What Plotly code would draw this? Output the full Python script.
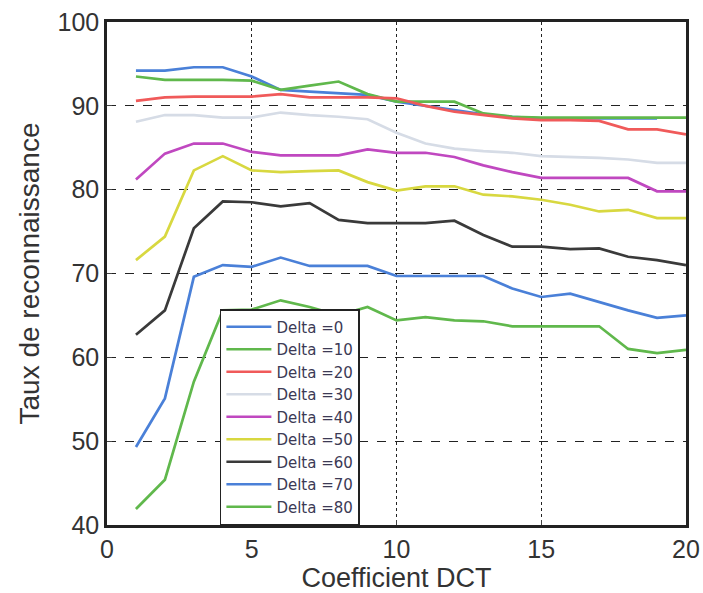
import plotly.graph_objects as go

# Coefficient DCT (x) and recognition rates per Delta
coef = list(range(1, 21))

delta_0 = [94.2, 94.2, 94.6, 94.6, 93.5, 91.9, 91.7, 91.5, 91.3, 90.5,
           90.0, 89.5, 89.0, 88.7, 88.5, 88.5, 88.5, 88.5, 88.5]
delta_10 = [93.5, 93.1, 93.1, 93.1, 93.0, 91.9, 92.4, 92.9, 91.4, 90.5,
            90.5, 90.5, 89.1, 88.7, 88.6, 88.6, 88.6, 88.6, 88.6, 88.6]
delta_20 = [90.6, 91.0, 91.1, 91.1, 91.1, 91.4, 91.0, 91.0, 91.0, 90.9,
            90.0, 89.3, 88.9, 88.5, 88.3, 88.3, 88.2, 87.2, 87.2, 86.6]
delta_30 = [88.1, 88.9, 88.9, 88.6, 88.6, 89.2, 88.9, 88.7, 88.4, 86.8,
            85.5, 84.9, 84.6, 84.4, 84.0, 83.9, 83.8, 83.6, 83.2, 83.2]
delta_40 = [81.2, 84.3, 85.5, 85.5, 84.5, 84.1, 84.1, 84.1, 84.8, 84.4,
            84.4, 83.9, 82.9, 82.1, 81.4, 81.4, 81.4, 81.4, 79.8, 79.8]
delta_50 = [71.6, 74.4, 82.3, 84.0, 82.3, 82.1, 82.2, 82.3, 80.9, 79.9,
            80.4, 80.4, 79.4, 79.2, 78.8, 78.2, 77.4, 77.6, 76.6, 76.6]
delta_60 = [62.7, 65.6, 75.4, 78.6, 78.5, 78.0, 78.4, 76.4, 76.0, 76.0,
            76.0, 76.3, 74.6, 73.2, 73.2, 72.9, 73.0, 72.0, 71.6, 71.0]
delta_70 = [49.3, 55.1, 69.6, 71.0, 70.8, 71.9, 70.9, 70.9, 70.9, 69.7,
            69.7, 69.7, 69.7, 68.2, 67.2, 67.6, 66.6, 65.6, 64.7, 65.0]
delta_80 = [41.9, 45.4, 57.1, 65.6, 65.7, 66.8, 66.0, 65.0, 66.0, 64.4,
            64.8, 64.4, 64.3, 63.7, 63.7, 63.7, 63.7, 61.0, 60.5, 60.9]

names = ['Delta =0', 'Delta =10', 'Delta =20', 'Delta =30', 'Delta =40',
         'Delta =50', 'Delta =60', 'Delta =70', 'Delta =80']
series = [delta_0, delta_10, delta_20, delta_30, delta_40,
          delta_50, delta_60, delta_70, delta_80]
colors = ['#4a80d8', '#60b84c', '#f05a5a', '#d6dce6', '#c048c0',
          '#d8d840', '#3a3a3a', '#4a80d8', '#60b84c']

fig = go.Figure()
for name, vals, col in zip(names, series, colors):
    fig.add_trace(go.Scatter(x=coef[:len(vals)], y=vals, mode='lines', name=name,
                             line=dict(color=col, width=2.7)))

font_fam = 'Liberation Sans, Arial, sans-serif'
axis_font = dict(family=font_fam, size=25, color='#333333')
fig.update_layout(
    width=703, height=593,
    margin=dict(l=107, r=17, t=22, b=68, autoexpand=False),
    paper_bgcolor='white', plot_bgcolor='white',
    font=dict(family=font_fam, color='#333333'),
    showlegend=True,
    legend=dict(x=0.195, y=0, xanchor='left', yanchor='bottom',
                bgcolor='white', bordercolor='#222222', borderwidth=1.5,
                font=dict(family='DejaVu Sans, sans-serif', size=15, color='#3c3a55'),
                tracegroupgap=0, itemwidth=45),
    xaxis=dict(range=[0, 20], tickvals=[0, 5, 10, 15, 20], tickfont=axis_font,
               title=dict(text='Coefficient DCT', font=dict(size=27, color='#333333'), standoff=5),
               showgrid=True, gridcolor='#222222', griddash='dot', gridwidth=1.2,
               showline=True, linecolor='#222222', linewidth=2.5, mirror=True,
               ticks='inside', ticklen=5, zeroline=False, automargin=False),
    yaxis=dict(range=[40, 100], tickvals=[40, 50, 60, 70, 80, 90, 100], tickfont=axis_font,
               title=dict(text='Taux de reconnaissance', font=dict(size=28, color='#333333'), standoff=10),
               showgrid=True, gridcolor='#222222', griddash='dash', gridwidth=1.2,
               showline=True, linecolor='#222222', linewidth=2.5, mirror=True,
               ticks='inside', ticklen=5, zeroline=False, automargin=False),
)

fig.write_html("out.html", post_script="document.body.style.margin='0';",
               config={'displayModeBar': False})
